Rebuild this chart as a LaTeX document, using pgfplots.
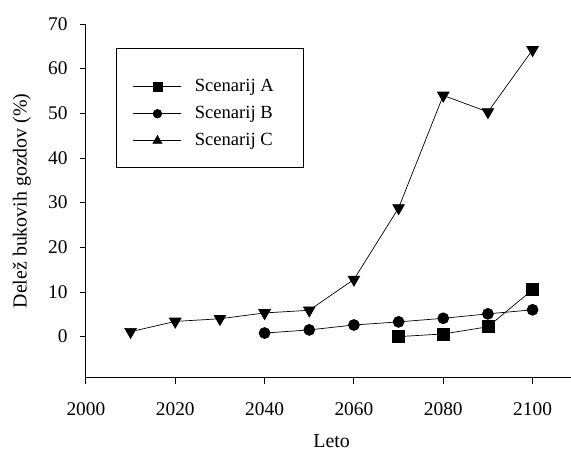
\documentclass[border=0pt]{standalone}
\usepackage{fontspec}
\setmainfont{Liberation Serif}
\usepackage{pgfplots}
\pgfplotsset{compat=1.18}
\begin{document}
\fontsize{18.4}{22}\selectfont
\begin{tikzpicture}
\begin{axis}[
  scale only axis, width=485pt, height=354pt,
  xmin=2000, xmax=2108.5, ymin=-9.2, ymax=70,
  axis lines=left, axis line style={-, line width=0.9pt},
  xtick={2000,2020,...,2100}, ytick={0,10,...,70},
  tick align=outside, major tick length=6pt,
  tick style={black, line width=0.9pt},
  /pgf/number format/assume math mode=true,
  /pgf/number format/1000 sep={},
  tick label style={font=\fontsize{19.4}{23}\selectfont},
  xticklabel style={yshift=-13pt},
  yticklabel style={xshift=-6pt},
  label style={font=\fontsize{19.9}{24}\selectfont},
  xlabel={Leto}, ylabel={Delež bukovih gozdov (\%)},
  xlabel style={at={(axis description cs:0.507,-0.178)}, anchor=center},
  ylabel style={at={(axis description cs:-0.132,0.5)}, anchor=center},
  clip=false,
  legend style={at={(axis description cs:0.0619,0.9152)}, anchor=north west,
    draw=none, fill=none, font=\fontsize{18.6}{22}\selectfont,
    inner xsep=17pt, inner ysep=23pt, row sep=8pt, column sep=11pt,
    column 2/.style={text width=80pt, align=left}},
  legend cell align=left,
  legend image code/.code={\draw[mark repeat=2,mark phase=2,#1] plot coordinates {(0pt,0pt) (24pt,0pt) (48pt,0pt)};},
]
\path[draw=none] (rel axis cs:-0.1773,1.0678) rectangle (rel axis cs:1,-0.1977);
\draw[black, line width=0.8pt] (rel axis cs:0.0619,0.9322) rectangle (rel axis cs:0.4495,0.5932);
\addplot[black, line width=0.7pt, mark=square*, mark size=6pt, mark options={solid, fill=black},
  legend image post style={mark size=4.5pt}] coordinates {
  (2070,0.0) (2080,0.6) (2090,2.2) (2100,10.5)};
\addlegendentry{Scenarij A}
\addplot[black, line width=0.7pt, mark=*, mark size=5.5pt, mark options={solid, fill=black},
  legend image post style={mark size=4.3pt}] coordinates {
  (2040,0.8) (2050,1.5) (2060,2.6) (2070,3.3) (2080,4.1) (2090,5.1) (2100,6.0)};
\addlegendentry{Scenarij B}
\addplot[black, line width=0.7pt, mark=triangle*, mark size=6.7pt, mark options={solid, fill=black, rotate=180}, forget plot] coordinates {
  (2010,1.1) (2020,3.4) (2030,4.0) (2040,5.3) (2050,5.9) (2060,12.8) (2070,28.8) (2080,54.0) (2090,50.3) (2100,64.2)};
\addlegendimage{black, line width=0.7pt, mark=triangle*, mark size=5.2pt, mark options={solid, fill=black}}
\addlegendentry{Scenarij C}
\end{axis}
\end{tikzpicture}
\end{document}
